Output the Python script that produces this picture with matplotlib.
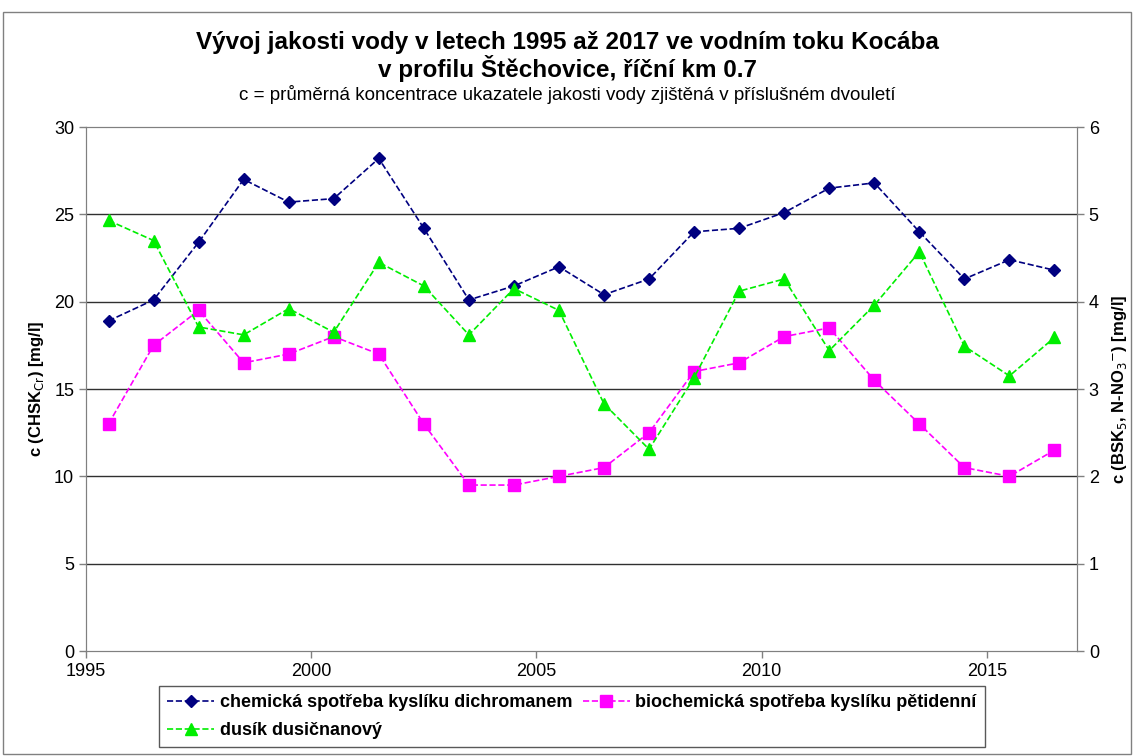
import matplotlib.pyplot as plt
from matplotlib.patches import Rectangle

plt.rcParams['font.family'] = ['Liberation Sans', 'DejaVu Sans']

# midpoints of the two-year periods
years = [1995.5 + i for i in range(22)]

chsk = [18.9, 20.1, 23.4, 27.0, 25.7, 25.9, 28.2, 24.2, 20.1, 20.9, 22.0,
        20.4, 21.3, 24.0, 24.2, 25.1, 26.5, 26.8, 24.0, 21.3, 22.4, 21.8]
bsk5 = [2.6, 3.5, 3.9, 3.3, 3.4, 3.6, 3.4, 2.6, 1.9, 1.9, 2.0,
        2.1, 2.5, 3.2, 3.3, 3.6, 3.7, 3.1, 2.6, 2.1, 2.0, 2.3]
nno3 = [4.93, 4.70, 3.71, 3.62, 3.92, 3.65, 4.45, 4.18, 3.62, 4.15, 3.90,
        2.83, 2.31, 3.13, 4.12, 4.26, 3.44, 3.96, 4.57, 3.49, 3.15, 3.59]

labels = ["chemická spotřeba kyslíku dichromanem",
          "biochemická spotřeba kyslíku pětidenní",
          "dusík dusičnanový"]

fig = plt.figure(figsize=(11.34, 7.56), dpi=100)
ax = fig.add_axes([86 / 1134, 1 - 651 / 756, (1077 - 86) / 1134, (651 - 127) / 756])
ax2 = ax.twinx()

# outer chart border
fig.patches.append(Rectangle((3 / 1134, 0.002), 1 - 6 / 1134, 1 - 12 / 756 - 0.002,
                             transform=fig.transFigure, fill=False,
                             edgecolor='#808080', linewidth=1.0))

ax.set_xlim(1995, 2017)
ax.set_ylim(0, 30)
ax2.set_ylim(0, 6)
ax.set_xticks([1995, 2000, 2005, 2010, 2015])
ax.set_yticks(range(0, 31, 5))
ax2.set_yticks(range(0, 7))

for y in range(5, 30, 5):
    ax.axhline(y, color='#303030', linewidth=1.0, zorder=0)

for a in (ax, ax2):
    for s in a.spines.values():
        s.set_color('#808080')
    a.tick_params(direction='out', length=5, color='#808080',
                  labelsize=13, width=1)
ax.spines['top'].set_color('#909090')

l1, = ax.plot(years, chsk, '--D', color='#000080', markersize=6,
              linewidth=1.2, label=labels[0])
l2, = ax2.plot(years, bsk5, '--s', color='#FF00FF', markersize=8,
               linewidth=1.2, label=labels[1])
l3, = ax2.plot(years, nno3, '--^', color='#00EE00', markersize=8,
               linewidth=1.2, label=labels[2])

ax.set_ylabel('c (CHSK$_{\\mathrm{Cr}}$) [mg/l]', fontsize=12,
              fontweight='bold', labelpad=6)
ax2.set_ylabel('c (BSK$_5$, N-NO$_3$$^{-}$) [mg/l]', fontsize=12,
               fontweight='bold', labelpad=8)

fig.text(0.5, 1 - 42 / 756, 'Vývoj jakosti vody v letech 1995 až 2017 ve vodním toku Kocába',
         ha='center', va='center', fontsize=17.5, fontweight='bold')
fig.text(0.5, 1 - 68 / 756, 'v profilu Štěchovice, říční km 0.7',
         ha='center', va='center', fontsize=17.5, fontweight='bold')
fig.text(0.5, 1 - 95 / 756,
         'c = průměrná koncentrace ukazatele jakosti vody zjištěná v příslušném dvouletí',
         ha='center', va='center', fontsize=13.5)

leg = fig.legend([l1, l3, l2], [labels[0], labels[2], labels[1]], ncol=2,
                 loc='lower left', bbox_to_anchor=(150 / 1134, 0 / 756),
                 fontsize=13, frameon=True, fancybox=False, edgecolor='#303030',
                 handlelength=2.6, columnspacing=0.6, handletextpad=0.3,
                 borderpad=0.45, labelspacing=0.6)
leg.get_frame().set_linewidth(1.0)
for t in leg.get_texts():
    t.set_fontweight('bold')

fig.savefig('out.png', dpi=100)
